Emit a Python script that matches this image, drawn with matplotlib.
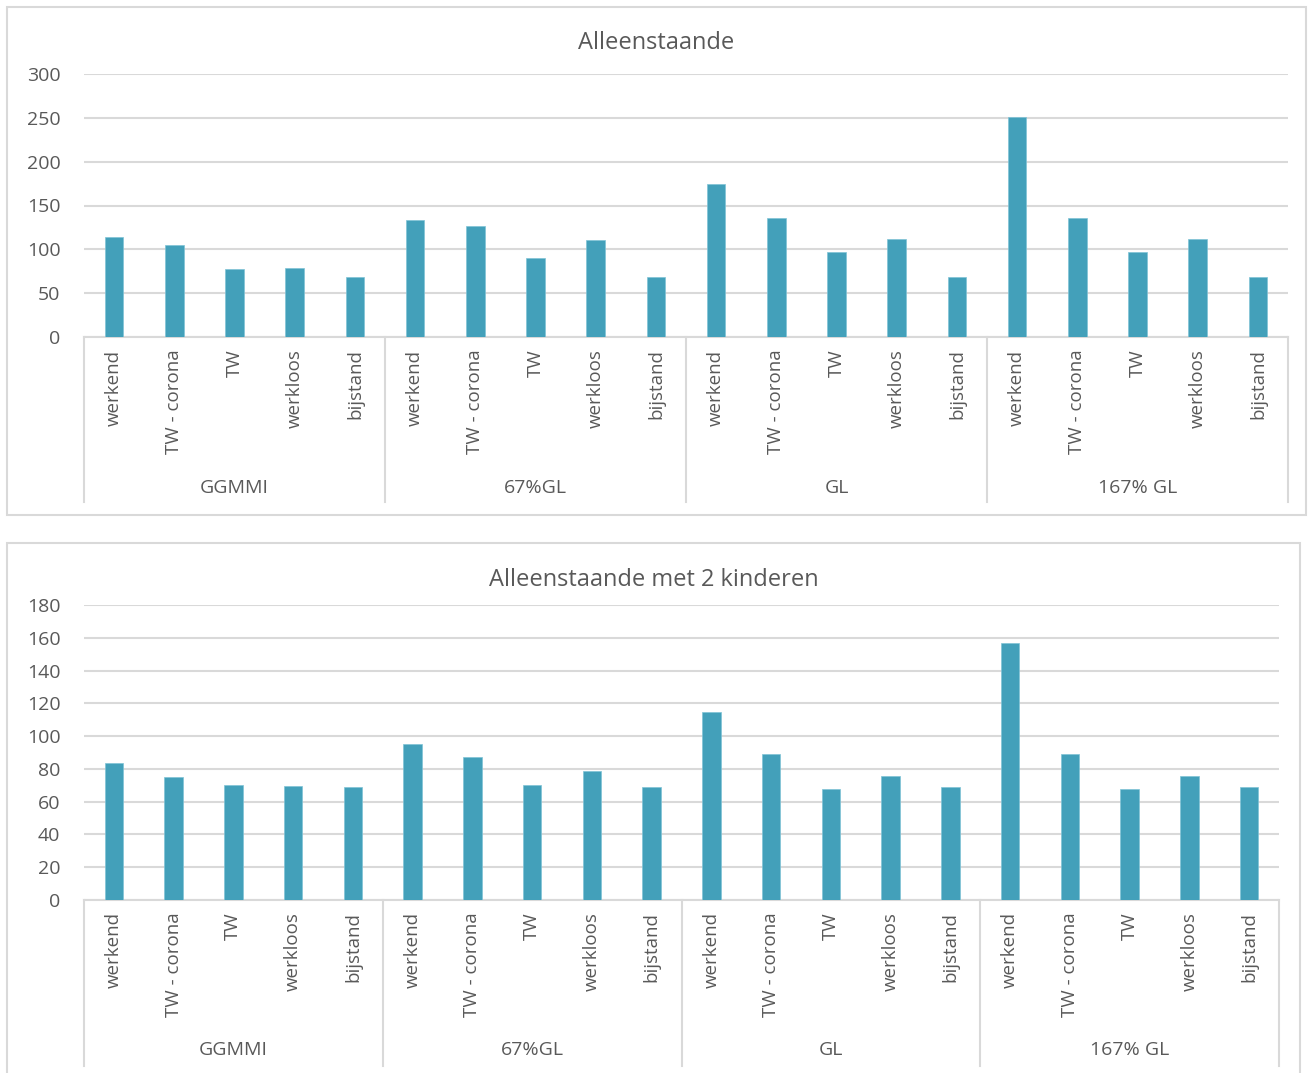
import matplotlib.pyplot as plt
import numpy as np
from matplotlib.patches import Rectangle
from matplotlib.transforms import blended_transform_factory

plt.rcParams['font.family'] = ['Open Sans', 'DejaVu Sans']

# data
groups = ['GGMMI', '67%GL', 'GL', '167% GL']
situations = ['werkend', 'TW - corona', 'TW', 'werkloos', 'bijstand']

alleenstaande = [114, 105, 78, 79, 68,
                 133, 127, 90, 111, 68,
                 174, 136, 97, 112, 68,
                 251, 136, 97, 112, 68]

met_2_kinderen = [83.5, 75.3, 70, 69.6, 69,
                  95, 87, 70, 78.6, 69,
                  114.6, 89, 67.6, 75.7, 69,
                  156.6, 89, 67.6, 75.7, 69]

W, H = 1309, 1073
bar_color = '#43A0BA'
grid_color = '#D9D9D9'
text_color = '#595959'

fig = plt.figure(figsize=(W / 100, H / 100), dpi=100)

# outer boxes (pixel coords: x0, y0, x1, y1)
boxes = [(7, 7, 1306, 515), (7, 543, 1300, 1080)]
for x0, y0, x1, y1 in boxes:
    fig.patches.append(Rectangle((x0 / W, 1 - y1 / H), (x1 - x0) / W, (y1 - y0) / H,
                                 transform=fig.transFigure, facecolor='none',
                                 edgecolor=grid_color, linewidth=1.5))


def panel(box, left, right, top, bottom, sep_bottom, label_y, title, title_y, values, ymax, step):
    ax = fig.add_axes([left / W, 1 - bottom / H, (right - left) / W, (bottom - top) / H])
    x = np.arange(len(values))
    ax.bar(x, values, width=0.31, color=bar_color, edgecolor='#7FC3D6', linewidth=0.5, zorder=3)
    ax.set_xlim(-0.5, len(values) - 0.5)
    ax.set_ylim(0, ymax)
    ax.set_yticks(np.arange(0, ymax + 1, step))
    ax.yaxis.grid(True, color=grid_color, linewidth=1.5, zorder=0)
    for s in ['top', 'right', 'left']:
        ax.spines[s].set_visible(False)
    ax.spines['bottom'].set_color(grid_color)
    ax.spines['bottom'].set_linewidth(1.5)
    ax.tick_params(axis='both', length=0, colors=text_color)
    ax.tick_params(axis='y', pad=17, labelsize=14)
    ax.tick_params(axis='x', pad=9, labelsize=13.5)
    ax.set_xticks(x)
    ax.set_xticklabels(situations * len(groups), rotation=90)

    h = bottom - top
    tr = blended_transform_factory(ax.transData, ax.transAxes)
    n = len(situations)
    for g in range(len(groups) + 1):
        xs = g * n - 0.5
        ax.plot([xs, xs], [0, -(sep_bottom - bottom) / h], transform=tr,
                color=grid_color, linewidth=1.5, clip_on=False)
    for g, name in enumerate(groups):
        ax.text(g * n + (n - 1) / 2, -(label_y - bottom) / h, name, transform=tr,
                ha='center', va='center', fontsize=14, color=text_color)
    fig.text((box[0] + box[2]) / 2 / W, 1 - title_y / H, title, ha='center', va='center',
             fontsize=17, color=text_color)
    return ax


panel(boxes[0], 84, 1288, 74, 337, 502, 488, 'Alleenstaande', 43, alleenstaande, 300, 50)
panel(boxes[1], 84, 1279, 605, 900, 1066, 1050, 'Alleenstaande met 2 kinderen', 580,
      met_2_kinderen, 180, 20)

fig.savefig('out.png', dpi=100)
